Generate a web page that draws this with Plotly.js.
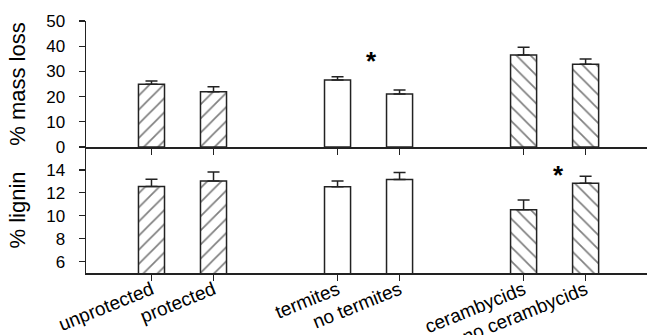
<!DOCTYPE html>
<html>
<head>
<meta charset="utf-8">
<script src="https://cdn.plot.ly/plotly-3.0.1.min.js"></script>
<style>html,body{margin:0;padding:0;background:#fff}#chart{width:648px;height:335px}</style>
</head>
<body>
<div id="chart"></div>
<script>
// ---- data ----
var categories = ['unprotected', 'protected', 'termites', 'no termites', 'cerambycids', 'no cerambycids'];
var groups = ['exclusion', 'exclusion', 'termites', 'termites', 'cerambycids', 'cerambycids'];
var massLoss = [24.9, 21.9, 26.6, 21.0, 36.5, 32.8];
var massLossErr = [1.3, 2.0, 1.3, 1.6, 3.1, 2.1];
var lignin = [12.56, 13.04, 12.52, 13.16, 10.52, 12.84];
var ligninErr = [0.63, 0.78, 0.52, 0.61, 0.85, 0.61];
var massTicks = [0, 10, 20, 30, 40, 50];
var ligninTicks = [6, 8, 10, 12, 14];

// ---- derived ----
var groupOrder = [];
groups.forEach(function (g) { if (groupOrder.indexOf(g) < 0) groupOrder.push(g); });
var xpos = categories.map(function (c, i) { return i + groupOrder.indexOf(groups[i]); });
var hatch = groups.map(function (g) { return g === 'exclusion' ? '/' : (g === 'cerambycids' ? '\\' : ''); });
var zeros = categories.map(function () { return 0; });

var FONT = 'Liberation Sans, Arial, sans-serif';
var INK = '#222';

function barTrace(vals, errs, xa, ya) {
  return {
    type: 'bar', x: xpos, y: vals, xaxis: xa, yaxis: ya, width: 0.42,
    marker: {
      color: '#ffffff',
      line: {color: INK, width: 1.5},
      pattern: {shape: hatch, fgcolor: '#000', bgcolor: '#fff', size: 10, solidity: 0.17, fillmode: 'overlay'}
    },
    error_y: {type: 'data', symmetric: false, array: errs, arrayminus: zeros, width: 6, thickness: 1.5, color: INK},
    hoverinfo: 'skip', showlegend: false
  };
}

var data = [
  barTrace(massLoss, massLossErr, 'x', 'y'),
  barTrace(lignin, ligninErr, 'x2', 'y2')
];

var xRange = [-1.056, 7.99];
var axisCommon = {showline: true, linecolor: INK, linewidth: 1.5, ticks: 'outside', ticklen: 6, tickwidth: 1.2, tickcolor: INK, showgrid: false, zeroline: false, fixedrange: true};

var layout = {
  width: 648, height: 335,
  margin: {l: 86, r: 1, t: 21, b: 62},
  paper_bgcolor: '#fff', plot_bgcolor: '#fff',
  font: {family: FONT, color: '#000', size: 16},
  bargap: 0,
  xaxis: Object.assign({}, axisCommon, {anchor: 'y', range: xRange, tickvals: xpos, showticklabels: false}),
  yaxis: Object.assign({}, axisCommon, {domain: [0.5, 1], anchor: 'x', range: [0, 50], tickvals: massTicks,
    ticklabelstandoff: 10,
    tickfont: {size: 17, family: FONT, color: '#000'},
    title: {text: '% mass loss', font: {size: 22, family: FONT, color: '#000'}, standoff: 14}}),
  xaxis2: Object.assign({}, axisCommon, {anchor: 'y2', range: xRange, tickvals: xpos, ticktext: categories, tickangle: -22,
    ticklabelstandoff: -9,
    tickfont: {size: 19, family: FONT, color: '#000'}}),
  yaxis2: Object.assign({}, axisCommon, {domain: [0, 0.5], anchor: 'x2', range: [5, 16], tickvals: ligninTicks,
    ticklabelstandoff: 10,
    tickfont: {size: 17, family: FONT, color: '#000'},
    title: {text: '% lignin', font: {size: 22, family: FONT, color: '#000'}, standoff: 14}}),
  annotations: [
    {xref: 'x', yref: 'y', x: 3.55, y: 34.2, text: '<b>*</b>', showarrow: false, font: {size: 26, family: FONT, color: '#000'}},
    {xref: 'x2', yref: 'y2', x: 6.56, y: 13.55, text: '<b>*</b>', showarrow: false, font: {size: 26, family: FONT, color: '#000'}}
  ]
};

Plotly.newPlot('chart', data, layout, {staticPlot: true, displayModeBar: false});
</script>
</body>
</html>
